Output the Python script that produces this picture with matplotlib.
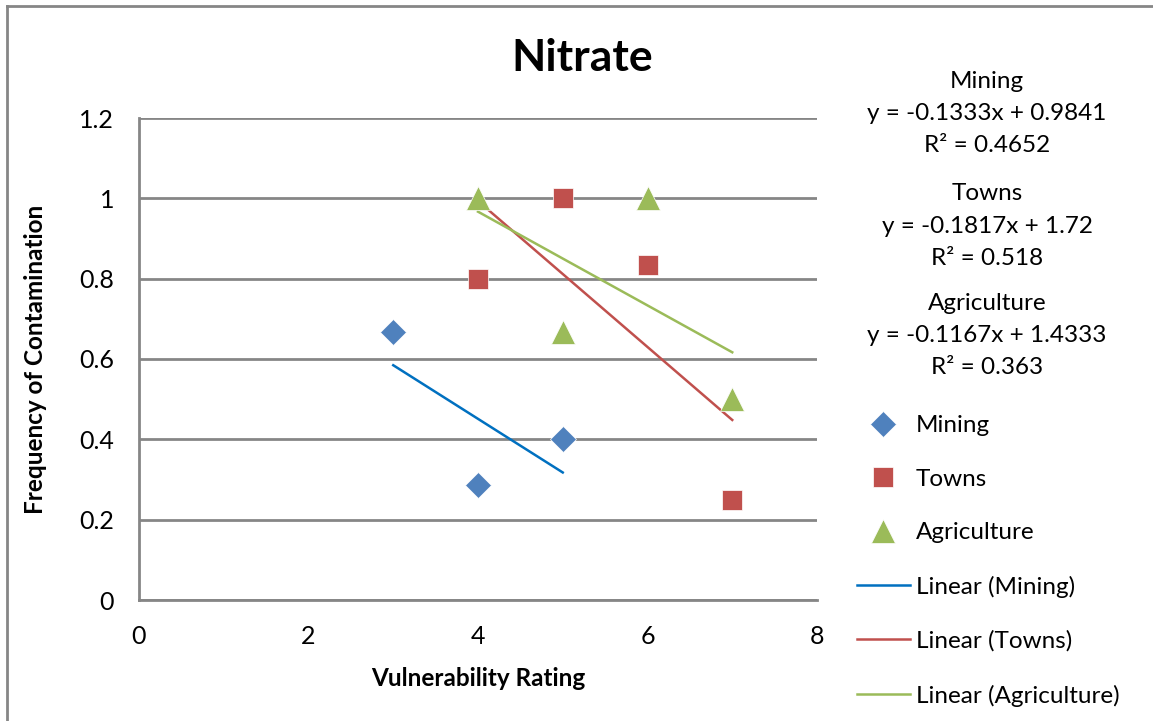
import numpy as np
import matplotlib.pyplot as plt
from matplotlib.lines import Line2D

plt.rcParams['font.family'] = ['Lato', 'DejaVu Sans']

# data
mining_x = [3, 4, 5]
mining_y = [0.667, 0.286, 0.4]
towns_x = [4, 5, 6, 7]
towns_y = [0.8, 1.0, 0.833, 0.25]
agri_x = [4, 5, 6, 7]
agri_y = [1.0, 0.667, 1.0, 0.5]

series_names = ['Mining', 'Towns', 'Agriculture']
equations = ['y = -0.1333x + 0.9841', 'y = -0.1817x + 1.72', 'y = -0.1167x + 1.4333']
r_squared = ['R² = 0.4652', 'R² = 0.518', 'R² = 0.363']

marker_colors = ['#4F81BD', '#C0504D', '#9BBB59']
trend_colors = ['#0070C0', '#C0504D', '#9BBB59']
markers = ['D', 's', '^']
msizes = [13, 15, 17]

fig = plt.figure(figsize=(11.53, 7.21), dpi=100)
ax = fig.add_axes([139 / 1153, 1 - 600 / 721, 678 / 1153, 482 / 721])

xs = [mining_x, towns_x, agri_x]
ys = [mining_y, towns_y, agri_y]

handles = []
for i in range(3):
    h, = ax.plot(xs[i], ys[i], linestyle='none', marker=markers[i], ms=msizes[i],
                 color=marker_colors[i], mec='white', mew=0.5, zorder=4)
    handles.append(h)

line_handles = []
for i in range(3):
    slope, intercept = np.polyfit(xs[i], ys[i], 1)
    fx = np.array([min(xs[i]), max(xs[i])])
    h, = ax.plot(fx, slope * fx + intercept, color=trend_colors[i], lw=1.8, zorder=3)
    line_handles.append(h)

ax.set_xlim(0, 8)
ax.set_ylim(0, 1.2)
ax.set_xticks([0, 2, 4, 6, 8])
ax.set_yticks([0, 0.2, 0.4, 0.6, 0.8, 1.0, 1.2])
ax.set_yticklabels(['0', '0.2', '0.4', '0.6', '0.8', '1', '1.2'])
ax.yaxis.grid(True, color='#868686', lw=2)
ax.set_axisbelow(True)
for s in ['top', 'right']:
    ax.spines[s].set_visible(False)
for s in ['left', 'bottom']:
    ax.spines[s].set_color('#868686')
    ax.spines[s].set_linewidth(2)
ax.tick_params(length=0, labelsize=18)
ax.tick_params(axis='x', pad=18)
ax.tick_params(axis='y', pad=18)

ax.set_xlabel('Vulnerability Rating', fontsize=17.5, fontweight='bold', labelpad=14)
ax.set_ylabel('Frequency of Contamination', fontsize=17.5, fontweight='bold', labelpad=23)
fig.text(582 / 1153, 1 - 58 / 721, 'Nitrate', fontsize=32, fontweight='bold',
         ha='center', va='center')

# trendline equations
eq_y = [81, 194, 303]
for i in range(3):
    y0 = eq_y[i]
    fig.text(987 / 1153, 1 - y0 / 721, series_names[i], fontsize=17.5, ha='center', va='center')
    fig.text(987 / 1153, 1 - (y0 + 32) / 721, equations[i], fontsize=17.5, ha='center', va='center')
    fig.text(987 / 1153, 1 - (y0 + 64) / 721, r_squared[i], fontsize=17.5, ha='center', va='center')

labels = series_names + ['Linear (%s)' % n for n in series_names]
fig.legend(handles + line_handles, labels, loc='upper left',
           bbox_to_anchor=(857 / 1153, 1 - 415 / 721), frameon=False, fontsize=17.5,
           handlelength=2.18, handletextpad=0.25, labelspacing=1.34, borderpad=0,
           borderaxespad=0)

# outer chart border
fig.add_artist(Line2D([7 / 1153, 7 / 1153], [0, 1 - 6 / 721], color='#868686', lw=2))
fig.add_artist(Line2D([7 / 1153, 1], [1 - 6 / 721, 1 - 6 / 721], color='#868686', lw=2))

fig.savefig('out.png', dpi=100)
